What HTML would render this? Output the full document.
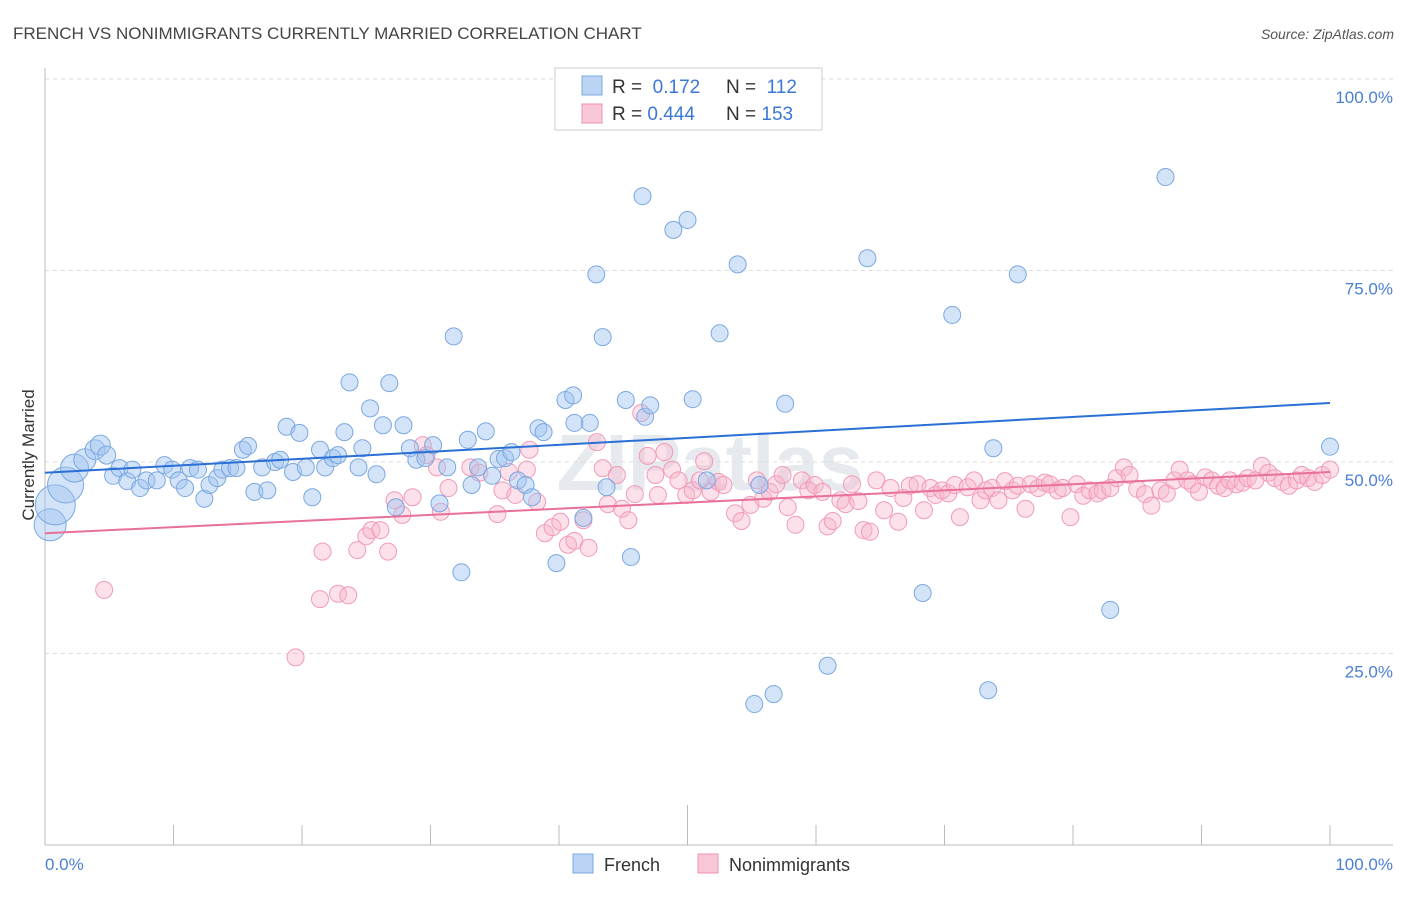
<!DOCTYPE html>
<html><head><meta charset="utf-8"><style>
body{margin:0;background:#fff;font-family:"Liberation Sans",sans-serif}
svg text{font-family:"Liberation Sans",sans-serif}
</style></head><body>
<svg id="chart" width="1406" height="892" viewBox="0 0 1406 892">
<text x="13" y="39" font-size="17" fill="#444">FRENCH VS NONIMMIGRANTS CURRENTLY MARRIED CORRELATION CHART</text>
<text x="1394" y="39" font-size="14" fill="#555" font-style="italic" text-anchor="end">Source: ZipAtlas.com</text>
<text x="710" y="490" font-size="80" fill="#e6e9ee" text-anchor="middle" font-weight="bold">ZIPatlas</text>
<g id="grid"></g>
<line x1="45" y1="68" x2="45" y2="845" stroke="#bbb"/>
<line x1="45" y1="845" x2="1393" y2="845" stroke="#bbb"/>
<text transform="translate(34,455) rotate(-90)" font-size="17" fill="#333" text-anchor="middle">Currently Married</text>
<text x="45" y="870" font-size="17" fill="#4a7fd4">0.0%</text>
<text x="1393" y="870" font-size="17" fill="#4a7fd4" text-anchor="end">100.0%</text>
<g id="points"></g>
<g id="trends"></g>
<g>
<rect x="555" y="68" width="267" height="62" fill="#fff" stroke="#ccc"/>
<rect x="582" y="76" width="20" height="19" fill="#bcd4f4" stroke="#7aa8e0"/>
<rect x="582" y="104" width="20" height="19" fill="#f9c8d8" stroke="#f090b0"/>
<text x="612" y="93" font-size="19" fill="#333">R = <tspan fill="#3a78d8">&#160;0.172</tspan><tspan x="726">N = </tspan><tspan fill="#3a78d8">&#160;112</tspan></text>
<text x="612" y="120" font-size="19" fill="#333">R = <tspan fill="#3a78d8">0.444</tspan><tspan x="726">N = </tspan><tspan fill="#3a78d8">153</tspan></text>
</g>
<g>
<rect x="573" y="854" width="20" height="19" fill="#bcd4f4" stroke="#7aa8e0"/>
<text x="604" y="871" font-size="18" fill="#333">French</text>
<rect x="698" y="854" width="20" height="19" fill="#f9c8d8" stroke="#f090b0"/>
<text x="729" y="871" font-size="18" fill="#333">Nonimmigrants</text>
</g>
</svg>
<script>
const yTicks=[25,50,75,100];
const yTickLabels=["25.0%","50.0%","75.0%","100.0%"];
const blueX=[0.4,0.8,1.6,2.3,3.1,3.9,4.3,4.8,5.3,5.8,6.4,6.8,7.4,7.9,8.7,9.3,9.9,10.4,10.9,11.3,11.9,12.4,12.8,13.4,13.8,14.4,14.9,15.4,15.8,16.3,16.9,17.3,17.9,18.3,18.8,19.3,19.8,20.3,20.8,21.4,21.8,22.4,22.8,23.3,23.7,24.4,24.7,25.3,25.8,26.3,26.8,27.3,27.9,28.4,28.9,29.6,30.2,30.7,31.3,31.8,32.4,32.9,33.2,33.7,34.3,34.8,35.3,35.8,36.3,36.8,37.4,37.9,38.4,38.8,39.8,40.5,41.1,41.2,41.9,42.4,42.9,43.4,43.7,45.2,45.6,46.5,46.7,47.1,48.9,50.0,50.4,51.5,52.5,53.9,55.2,55.6,56.7,57.6,60.9,64.0,68.3,70.6,73.4,73.8,75.7,82.9,87.2,100];
const blueY=[41.8,44.4,47.0,49.2,50.3,51.6,52.2,50.9,48.2,49.2,47.5,49.0,46.6,47.6,47.6,49.6,49.0,47.6,46.6,49.2,49.0,45.2,47.0,47.9,49.0,49.2,49.2,51.6,52.1,46.1,49.3,46.3,50.0,50.3,54.6,48.7,53.8,49.3,45.4,51.6,49.3,50.5,50.9,53.9,60.4,49.3,51.8,57.0,48.4,54.8,60.3,44.1,54.8,51.8,50.3,50.5,52.2,44.6,49.3,66.4,35.6,52.9,47.0,49.3,54.0,48.2,50.4,50.5,51.3,47.6,47.0,45.4,54.4,53.9,36.8,58.1,58.7,55.1,42.7,55.1,74.5,66.3,46.7,58.1,37.6,84.7,55.9,57.4,80.3,81.6,58.2,47.6,66.8,75.8,18.4,47.0,19.7,57.6,23.4,76.6,32.9,69.2,20.2,51.8,74.5,30.7,87.2,52.0];
const blueSize=[16,20,18,14,11,10,10,9];
const pinkX=[4.6,19.5,21.4,21.6,22.8,23.6,24.3,25.0,25.4,26.1,26.7,27.2,27.8,28.6,29.4,29.7,30.5,30.8,31.4,33.1,33.8,35.2,35.6,36.1,36.6,37.5,37.7,38.3,38.9,39.5,40.1,40.7,41.2,41.9,42.3,42.95,43.4,43.8,44.5,44.9,45.4,45.9,46.4,46.9,47.5,47.7,48.2,48.8,49.3,49.9,50.4,50.97,51.3,51.8,52.4,52.8,53.7,54.2,54.9,55.4,55.9,56.4,56.9,57.4,57.8,58.4,58.9,59.4,59.9,60.5,60.9,61.3,61.9,62.3,62.8,63.3,63.7,64.2,64.7,65.3,65.8,66.4,66.8,67.3,67.9,68.4,68.9,69.3,69.8,70.3,70.8,71.2,71.8,72.3,72.8,73.2,73.7,74.2,74.7,75.3,75.7,76.3,76.7,77.3,77.8,78.2,78.8,79.2,79.8,80.3,80.8,81.3,81.9,82.3,82.9,83.4,83.96,84.4,85.0,85.6,86.1,86.8,87.3,87.9,88.3,88.9,89.3,89.8,90.3,90.8,91.3,91.8,92.2,92.7,93.2,93.6,94.2,94.7,95.2,95.7,96.3,96.8,97.4,97.8,98.3,98.8,99.4,100];
const pinkY=[33.3,24.5,32.1,38.3,32.8,32.6,38.5,40.3,41.1,41.1,38.3,45.0,43.1,45.4,52.2,50.9,49.3,43.5,46.6,49.3,48.6,43.2,46.3,48.7,45.7,49.0,51.6,44.8,40.7,41.5,42.2,39.2,39.7,42.4,38.8,52.6,49.2,44.5,48.3,43.9,42.4,45.8,56.4,50.8,48.3,45.7,51.3,49.0,47.6,45.7,46.3,47.6,50.1,46.1,47.4,47.0,43.3,42.3,44.4,47.6,45.2,46.1,47.1,48.3,44.1,41.8,47.6,46.3,47.0,46.1,41.6,42.3,45.0,44.5,47.1,44.9,41.1,40.9,47.6,43.7,46.6,42.2,45.3,46.9,47.1,43.7,46.6,45.7,46.3,45.9,47.0,42.8,46.7,47.6,45.0,46.3,46.6,45.0,47.5,46.3,46.9,43.9,47.1,46.6,47.3,47.1,46.3,46.6,42.8,47.1,45.6,46.3,45.9,46.3,46.6,47.9,49.3,48.3,46.5,45.8,44.3,46.3,45.9,47.6,49.0,47.6,47.1,46.1,48.0,47.6,46.9,46.6,47.6,47.1,47.3,47.9,47.6,49.5,48.6,47.9,47.4,46.9,47.6,48.3,47.9,47.4,48.3,49.0];
const blueTrend=[48.6,57.7];
const pinkTrend=[40.7,48.7];
const NS="http://www.w3.org/2000/svg";
const xs=v=>45+v*12.85;
const ys=v=>845-v*7.66;
function mk(t,a,p){const e=document.createElementNS(NS,t);for(const k in a)e.setAttribute(k,a[k]);p.appendChild(e);return e;}
const grid=document.getElementById('grid');
yTicks.forEach((t,i)=>{
 const l=mk('line',{x1:45,x2:1393,y1:ys(t),y2:ys(t),stroke:'#ddd','stroke-dasharray':'4,4'},grid);
 
 
 const tx=mk('text',{x:1393,y:ys(t)+24,'font-size':17,fill:'#4a7fd4','text-anchor':'end'},grid);
 tx.textContent=yTickLabels[i];
 
 
});
for(let i=1;i<=10;i++){
 const x=xs(i*10);
 const l=mk('line',{x1:x,x2:x,y1:i==5?805:825,y2:845,stroke:'#bbb'},grid);
 
 
}
const pts=document.getElementById('points');
pinkX.forEach((x,i)=>{
 const c=mk('circle',{cx:xs(x),cy:ys(pinkY[i]),r:8.5,fill:'rgba(248,180,202,0.4)',stroke:'#f29ab8','stroke-width':1},pts);
 
 
});
blueX.forEach((x,i)=>{
 const c=mk('circle',{cx:xs(x),cy:ys(blueY[i]),r:blueSize[i]||8.5,fill:'rgba(160,196,240,0.45)',stroke:'#7aa8e0','stroke-width':1},pts);
 
 
});
const tr=document.getElementById('trends');
const b=mk('line',{x1:xs(0),y1:ys(blueTrend[0]),x2:xs(100),y2:ys(blueTrend[1]),stroke:'#2a6fd6','stroke-width':2},tr);


const p=mk('line',{x1:xs(0),y1:ys(pinkTrend[0]),x2:xs(100),y2:ys(pinkTrend[1]),stroke:'#e8709a','stroke-width':2},tr);


</script>
</body></html>
